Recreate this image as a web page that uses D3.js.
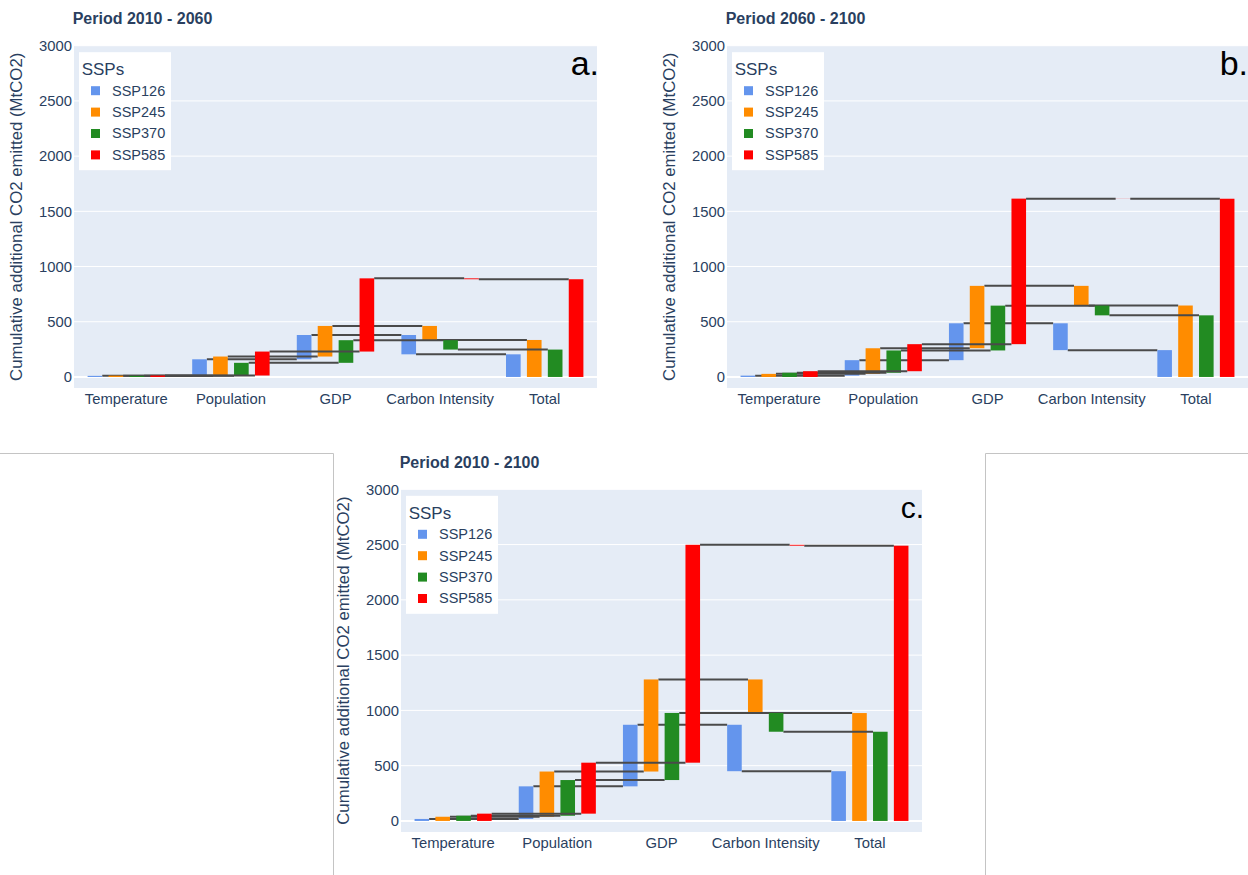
<!DOCTYPE html>
<html>
<head>
<meta charset="utf-8">
<script src="https://cdn.jsdelivr.net/npm/d3@7"></script>
<style>
  body { margin: 0; background: #fff; }
  svg { display: block; }
  text { font-family: "Liberation Sans", Arial, Helvetica, sans-serif; }
</style>
</head>
<body>
<svg id="fig" width="1248" height="875"></svg>
<script>
// ---- data -------------------------------------------------------------
const categories = ["Temperature", "Population", "GDP", "Carbon Intensity", "Total"];
const scenarios = ["SSP126", "SSP245", "SSP370", "SSP585"];
const scenarioColors = ["#6495ED", "#FF8C00", "#228B22", "#FF0000"];
const yTicks = [0, 500, 1000, 1500, 2000, 2500, 3000];

// Driver contributions (MtCO2): Temperature, Population, GDP, Carbon Intensity.
// The "Total" bar is the running sum of the four drivers.
const ssp126_2010_2060 = [10, 150, 220, -175];
const ssp245_2010_2060 = [12, 173, 277, -127];
const ssp370_2010_2060 = [10, 118, 205, -85];
const ssp585_2010_2060 = [13, 217, 663, -8];

const ssp126_2060_2100 = [12, 140, 334, -243];
const ssp245_2060_2100 = [28, 232, 565, -178];
const ssp370_2060_2100 = [38, 202, 406, -88];
const ssp585_2060_2100 = [52, 245, 1318, -1];

const ssp126_2010_2100 = [18, 295, 557, -420];
const ssp245_2010_2100 = [38, 409, 833, -304];
const ssp370_2010_2100 = [47, 323, 607, -170];
const ssp585_2010_2100 = [66, 461, 1971, -8];

// ---- layout -----------------------------------------------------------
const panels = [
  { title: "Period 2010 - 2060", tag: "a.", tagSize: 34, tagX: 599,
    series: [ssp126_2010_2060, ssp245_2010_2060, ssp370_2010_2060, ssp585_2010_2060],
    x0: 74, x1: 597, yTop: 45.7, yBottom: 388 },
  { title: "Period 2060 - 2100", tag: "b.", tagSize: 34, tagX: 1248,
    series: [ssp126_2060_2100, ssp245_2060_2100, ssp370_2060_2100, ssp585_2060_2100],
    x0: 727, x1: 1248, yTop: 45.7, yBottom: 388 },
  { title: "Period 2010 - 2100", tag: "c.", tagSize: 30, tagX: 924,
    series: [ssp126_2010_2100, ssp245_2010_2100, ssp370_2010_2100, ssp585_2010_2100],
    x0: 401, x1: 922, yTop: 489.3, yBottom: 832 }
];

const textColor = "#2a3f5f";
const plotBg = "#e5ecf6";
const connectorColor = "#4a4a4a";

const svg = d3.select("#fig");
svg.append("rect").attr("width", 1248).attr("height", 875).attr("fill", "#fff");

// thin frame lines around the lower panel
svg.append("path")
  .attr("d", "M0,453.5 H333.5 V875 M1248,453.5 H985.5 V875")
  .attr("fill", "none").attr("stroke", "#c4c4c4").attr("stroke-width", 1);

panels.forEach(p => drawPanel(p));

function drawPanel(p) {
  const g = svg.append("g");
  const y = d3.scaleLinear().domain([-100, 3000]).range([p.yBottom, p.yTop]);
  const x = d3.scaleBand().domain(categories).range([p.x0, p.x1]).padding(0);
  const bw = x.bandwidth();
  const inner = d3.scaleBand().domain(scenarios)
    .range([bw * 0.1, bw * 0.9]).paddingInner(0.3).paddingOuter(0.15);

  // plot background
  g.append("rect")
    .attr("x", p.x0).attr("y", y(3000))
    .attr("width", p.x1 - p.x0).attr("height", p.yBottom - y(3000))
    .attr("fill", plotBg);

  // grid lines
  g.append("g").selectAll("line").data(yTicks).join("line")
    .attr("x1", p.x0).attr("x2", p.x1)
    .attr("y1", d => y(d)).attr("y2", d => y(d))
    .attr("stroke", "#fff").attr("stroke-width", d => d === 0 ? 2 : 1);

  // y axis
  const ya = g.append("g").attr("transform", `translate(${p.x0},0)`)
    .call(d3.axisLeft(y).tickValues(yTicks).tickSize(0).tickPadding(2).tickFormat(d3.format("d")));
  ya.select(".domain").remove();
  ya.selectAll("text").attr("fill", textColor).attr("font-size", 14.8)
    .attr("font-family", '"Liberation Sans", Arial, sans-serif');

  // x axis
  const xa = g.append("g").attr("transform", `translate(0,${p.yBottom})`)
    .call(d3.axisBottom(x).tickSize(0).tickPadding(5.5));
  xa.select(".domain").remove();
  xa.selectAll("text").attr("fill", textColor).attr("font-size", 14.8)
    .attr("font-family", '"Liberation Sans", Arial, sans-serif');

  // axis title
  g.append("text")
    .attr("transform", `translate(${p.x0 - 52.5},${(p.yTop + p.yBottom) / 2}) rotate(-90)`)
    .attr("text-anchor", "middle")
    .attr("font-size", 16.8).attr("fill", textColor)
    .text("Cumulative additional CO2 emitted (MtCO2)");

  // panel title
  g.append("text")
    .attr("x", p.x0 - 1.3).attr("y", p.yTop - 21.7)
    .attr("font-size", 16).attr("font-weight", "bold").attr("fill", textColor)
    .text(p.title);

  // waterfall traces, drawn in order so later scenarios sit on top
  p.series.forEach((vals, k) => {
    const steps = [];
    let cum = 0;
    vals.forEach((v, i) => {
      steps.push({ cat: categories[i], base: cum, end: cum + v });
      cum += v;
    });
    steps.push({ cat: categories[4], base: 0, end: cum });

    const tg = g.append("g");
    const left = d => x(d.cat) + inner(scenarios[k]);
    const conn = d3.pairs(steps);
    tg.selectAll("line.conn").data(conn).join("line")
      .attr("class", "conn")
      .attr("x1", d => left(d[0]) + inner.bandwidth())
      .attr("x2", d => left(d[1]))
      .attr("y1", d => y(d[0].end)).attr("y2", d => y(d[0].end))
      .attr("stroke", connectorColor).attr("stroke-width", 2);

    tg.selectAll("rect").data(steps).join("rect")
      .attr("x", d => left(d))
      .attr("width", inner.bandwidth())
      .attr("y", d => y(Math.max(d.base, d.end)))
      .attr("height", d => Math.abs(y(d.base) - y(d.end)))
      .attr("fill", scenarioColors[k]);
  });

  // legend
  const lx = p.x0 + 5, ly = p.yTop + 6.5;
  const lg = g.append("g").attr("transform", `translate(${lx},${ly})`);
  lg.append("rect").attr("width", 92).attr("height", 118).attr("fill", "#fff");
  lg.append("text").attr("x", 2.7).attr("y", 23)
    .attr("font-size", 17).attr("fill", textColor).text("SSPs");
  const items = lg.selectAll("g.item").data(scenarios).join("g")
    .attr("class", "item")
    .attr("transform", (d, i) => `translate(0,${38.5 + i * 21.4})`);
  items.append("rect").attr("x", 12).attr("y", -4.5).attr("width", 9).attr("height", 9)
    .attr("fill", (d, i) => scenarioColors[i]);
  items.append("text").attr("x", 33).attr("y", 4.8)
    .attr("font-size", 14.5).attr("fill", textColor).text(d => d);

  // panel tag
  g.append("text")
    .attr("x", p.tagX).attr("y", p.yTop + 29)
    .attr("text-anchor", "end")
    .attr("font-family", '"Open Sans", "DejaVu Sans", sans-serif')
    .attr("font-size", p.tagSize).attr("fill", "#000")
    .text(p.tag);
}
</script>
</body>
</html>
